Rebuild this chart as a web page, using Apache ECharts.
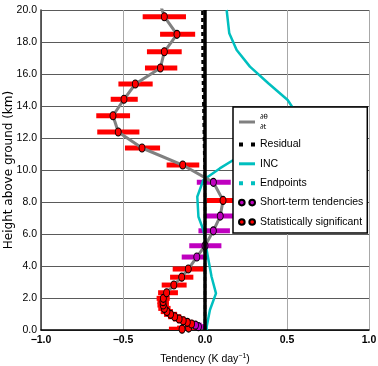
<!DOCTYPE html>
<html><head><meta charset="utf-8">
<script src="https://cdn.jsdelivr.net/npm/echarts@6/dist/echarts.min.js"></script>
<style>html,body{margin:0;padding:0;background:#fff}#c{width:378px;height:366px}</style>
</head><body><div id="c"></div>
<script>
// ---- data ----
const heights     = [0.05, 0.12, 0.21, 0.30, 0.375, 0.48, 0.58, 0.69, 0.83, 0.98, 1.15, 1.35, 1.56, 1.77, 1.98, 2.33, 2.81, 3.30, 3.81, 4.56, 5.27, 6.20, 7.12, 8.10, 9.23, 10.31, 11.375, 12.375, 13.39, 14.42, 15.375, 16.375, 17.39, 18.48, 19.58, 20.6];
const tendency    = [-0.14, -0.10, -0.04, -0.058, -0.082, -0.108, -0.133, -0.158, -0.185, -0.21, -0.232, -0.248, -0.255, -0.256, -0.254, -0.234, -0.19, -0.142, -0.102, -0.05, 0.0, 0.051, 0.093, 0.11, 0.051, -0.136, -0.384, -0.529, -0.561, -0.494, -0.425, -0.272, -0.248, -0.171, -0.248, -0.28];
const errLow      = [-0.22, -0.17, -0.08, -0.10, -0.12, -0.145, -0.17, -0.195, -0.225, -0.25, -0.27, -0.285, -0.29, -0.29, -0.295, -0.286, -0.264, -0.213, -0.197, -0.142, -0.096, -0.04, -0.005, 0.01, -0.05, -0.234, -0.488, -0.657, -0.663, -0.575, -0.528, -0.366, -0.354, -0.274, -0.38, -0.40];
const errHigh     = [-0.06, -0.04, 0.0, -0.02, -0.045, -0.07, -0.095, -0.12, -0.145, -0.17, -0.195, -0.21, -0.22, -0.22, -0.215, -0.165, -0.112, -0.071, -0.008, 0.01, 0.10, 0.152, 0.19, 0.21, 0.157, -0.035, -0.274, -0.40, -0.457, -0.41, -0.319, -0.169, -0.142, -0.06, -0.116, -0.15];
const significant = [1, 1, 0, 0, 1, 1, 1, 1, 1, 1, 1, 1, 1, 1, 1, 1, 1, 1, 1, 0, 0, 0, 0, 1, 0, 1, 1, 1, 1, 1, 1, 1, 1, 1, 1, 1];

const incHeights = [0.0, 0.2, 1.25, 2.29, 3.33, 5.0, 5.2, 6.25, 7.08, 8.33, 9.375, 10.1, 10.625, 11.5, 12.5, 13.5, 14.375, 15.42, 16.46, 17.5, 18.54, 20.0];
const incValues  = [0.01, 0.01, 0.03, 0.067, 0.04, 0.01, 0.01, -0.01, -0.04, -0.047, -0.01, 0.09, 0.173, 0.35, 0.52, 0.56, 0.504, 0.386, 0.274, 0.193, 0.148, 0.132];

const residualHeights = [0, 9.5, 11, 14, 17, 20];
const residualValues  = [0.0, 0.0, -0.005, -0.01, -0.015, -0.016];

const endpointHeights = [];
const endpointValues  = [];

const zeroHeights = [0, 20];
const zeroValues  = [0, 0];

const seriesNames = ['\u2202\u03b8/\u2202t', 'Residual', 'INC', 'Endpoints', 'Short-term tendencies', 'Statistically significant'];
const xAxisTitle = 'Tendency (K day{sup|\u22121})';
const yAxisTitle = 'Height above ground (km)';

// ---- build ----
const SANS = '"Liberation Sans",Arial,sans-serif';
const pairs = (xs, ys) => xs.map((x, i) => [x, ys[i]]);
const lineData = pairs(tendency, heights);
const barsSig = [], barsNon = [], ptsSig = [], ptsNon = [];
heights.forEach((h, i) => {
  const bar = [errLow[i], h, errHigh[i]];
  const pt = [tendency[i], h];
  if (significant[i]) { barsSig.push(bar); ptsSig.push(pt); } else { barsNon.push(bar); ptsNon.push(pt); }
});
function barRenderer(color) {
  return function (params, api) {
    const y = api.value(1);
    const a = api.coord([api.value(0), y]);
    const b = api.coord([api.value(2), y]);
    return { type: 'rect', shape: { x: a[0], y: a[1] - 2.5, width: b[0] - a[0], height: 5 }, style: { fill: color } };
  };
}
const RED = '#ff0000', MAG = '#bf00bf', CYAN = '#00bfbf';
const twoDots = 'path://M0,3a3,3 0 1,0 6,0a3,3 0 1,0 -6,0ZM11,3a3,3 0 1,0 6,0a3,3 0 1,0 -6,0Z';
const solidIcon = 'path://M0,0H16V3H0Z';
const dashIcon = 'path://M0,0H4V4H0ZM12,0H16V4H12Z';

const chart = echarts.init(document.getElementById('c'), null, { renderer: 'canvas' });
chart.setOption({
  animation: false,
  backgroundColor: '#fff',
  grid: { left: 41, right: 9, top: 10, bottom: 36, containLabel: false, outerBoundsMode: 'none' },
  xAxis: {
    type: 'value', min: -1, max: 1, interval: 0.5,
    name: xAxisTitle, nameLocation: 'middle', nameGap: 23, nameMoveOverlap: false,
    nameTextStyle: { fontFamily: SANS, fontSize: 10.5, color: '#000', lineHeight: 13,
      rich: { sup: { fontFamily: SANS, fontSize: 7, verticalAlign: 'top', lineHeight: 13 } } },
    axisLine: { show: true, onZero: false, lineStyle: { color: '#000', width: 1.5 } },
    axisTick: { show: false },
    axisLabel: { margin: 5, fontFamily: SANS, fontSize: 10.5, fontWeight: 'bold', color: '#000',
      formatter: v => (v < 0 ? '\u2212' : '') + Math.abs(v).toFixed(1) },
    splitLine: { show: true, lineStyle: { color: '#a8a8a8', width: 1 } }
  },
  yAxis: {
    type: 'value', min: 0, max: 20, interval: 2,
    name: yAxisTitle, nameLocation: 'middle', nameGap: 26, nameRotate: 90, nameMoveOverlap: false,
    nameTextStyle: { fontFamily: 'DejaVu Sans', fontSize: 12, color: '#000' },
    axisLine: { show: true, onZero: false, lineStyle: { color: '#333', width: 1.5 } },
    axisTick: { show: false },
    axisLabel: { margin: 4, fontFamily: SANS, fontSize: 10.5, color: '#000', formatter: v => v.toFixed(1) },
    splitLine: { show: true, lineStyle: { color: '#5a5a5a', width: 1 } }
  },
  legend: {
    orient: 'vertical', left: 233, top: 107, selectedMode: false,
    padding: [5, 4, 4, 5], itemGap: 5.4, itemWidth: 16, itemHeight: 8,
    backgroundColor: '#fff', borderColor: '#000', borderWidth: 1.5, borderRadius: 0,
    textStyle: { fontFamily: SANS, fontSize: 10.5, color: '#000', lineHeight: 14,
      rich: { f: { fontFamily: 'DejaVu Sans', fontSize: 7, lineHeight: 10, color: '#000' } } },
    formatter: name => name === seriesNames[0] ? '{f|\u2202\u03b8}\n{f|\u2202t}' : name,
    data: [
      { name: seriesNames[0], icon: solidIcon },
      { name: seriesNames[1], icon: dashIcon },
      { name: seriesNames[2], icon: solidIcon },
      { name: seriesNames[3], icon: dashIcon },
      { name: seriesNames[4], icon: twoDots },
      { name: seriesNames[5], icon: twoDots }
    ],
    z: 20
  },
  series: [
    { type: 'custom', name: 'barsNon', renderItem: barRenderer(MAG), data: barsNon, clip: true,
      encode: { x: [0, 2], y: 1 }, z: 2, silent: true },
    { type: 'custom', name: 'barsSig', renderItem: barRenderer(RED), data: barsSig, clip: true,
      encode: { x: [0, 2], y: 1 }, z: 2, silent: true },
    { type: 'line', name: seriesNames[2], data: pairs(incValues, incHeights), symbol: 'none',
      lineStyle: { color: CYAN, width: 2.5 }, itemStyle: { color: CYAN }, z: 3 },
    { type: 'line', name: seriesNames[3], data: pairs(endpointValues, endpointHeights), symbol: 'none',
      lineStyle: { color: CYAN, width: 3, type: [3, 3] }, itemStyle: { color: CYAN }, z: 3 },
    { type: 'line', name: seriesNames[0], data: lineData, symbol: 'none',
      lineStyle: { color: '#808080', width: 3 }, itemStyle: { color: '#808080' }, z: 4 },
    { type: 'scatter', name: seriesNames[4], data: ptsNon, symbol: 'circle', symbolSize: [6, 8],
      itemStyle: { color: MAG, borderColor: '#000', borderWidth: 1, opacity: 1 }, z: 5 },
    { type: 'scatter', name: seriesNames[5], data: ptsSig, symbol: 'circle', symbolSize: [6, 8],
      itemStyle: { color: RED, borderColor: '#000', borderWidth: 1, opacity: 1 }, z: 5 },
    { type: 'line', name: seriesNames[1], data: pairs(residualValues, residualHeights), symbol: 'none',
      lineStyle: { color: '#000', width: 2.5, type: [4, 3] }, itemStyle: { color: '#000' }, z: 6 },
    { type: 'line', name: 'zero', data: pairs(zeroValues, zeroHeights), symbol: 'none',
      lineStyle: { color: '#000', width: 3.5 }, z: 7, silent: true }
  ]
});
</script>
</body></html>
